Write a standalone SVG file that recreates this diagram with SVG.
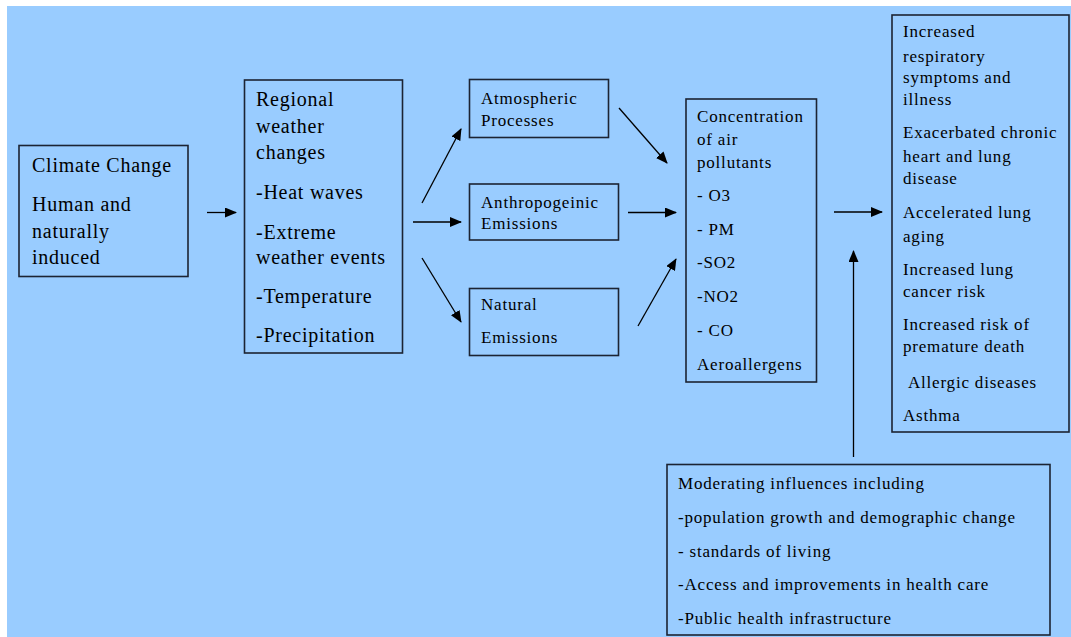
<svg xmlns="http://www.w3.org/2000/svg" width="1071" height="637" viewBox="0 0 1071 637">
<defs>
<style>
.box{fill:none;stroke:#1c2433;stroke-width:1.6}
.t{font-family:"Liberation Serif","Times New Roman",serif;fill:#000}
.l{font-size:20px;letter-spacing:0.75px}
.s{font-size:17px;letter-spacing:0.8px}
.c{stroke:#000;stroke-width:1.3;fill:none}
</style>
<marker id="ah" viewBox="0 0 12 10" refX="11" refY="5" markerWidth="12" markerHeight="10" markerUnits="userSpaceOnUse" orient="auto">
<path d="M0,0 L12,5 L0,10 Z" fill="#000"/>
</marker>
</defs>
<rect x="0" y="0" width="1071" height="637" fill="#ffffff"/>
<rect x="7" y="6" width="1064" height="631" fill="#99ccff"/>

<g id="climate">
<rect class="box" x="19" y="145.5" width="169" height="131"/>
<text class="t l" x="32" y="172">Climate Change</text>
<text class="t l" x="32" y="211">Human and</text>
<text class="t l" x="32" y="238">naturally</text>
<text class="t l" x="32" y="264">induced</text>
</g>

<g id="regional">
<rect class="box" x="244.5" y="80" width="158" height="273"/>
<text class="t l" x="256" y="106">Regional</text>
<text class="t l" x="256" y="133">weather</text>
<text class="t l" x="256" y="159">changes</text>
<text class="t l" x="256" y="199">-Heat waves</text>
<text class="t l" x="256" y="239">-Extreme</text>
<text class="t l" x="256" y="264">weather events</text>
<text class="t l" x="256" y="303">-Temperature</text>
<text class="t l" x="256" y="342">-Precipitation</text>
</g>

<g id="atmospheric">
<rect class="box" x="469.5" y="79.5" width="139" height="58"/>
<text class="t s" x="481" y="104">Atmospheric</text>
<text class="t s" x="481" y="126">Processes</text>
</g>

<g id="anthropogenic">
<rect class="box" x="469.5" y="184" width="149" height="56"/>
<text class="t s" x="481" y="208">Anthropogeinic</text>
<text class="t s" x="481" y="229">Emissions</text>
</g>

<g id="natural">
<rect class="box" x="469.5" y="288.5" width="149" height="67"/>
<text class="t s" x="481" y="310">Natural</text>
<text class="t s" x="481" y="343">Emissions</text>
</g>

<g id="concentration">
<rect class="box" x="686" y="99" width="130.5" height="283"/>
<text class="t s" x="697" y="122">Concentration</text>
<text class="t s" x="697" y="145">of air</text>
<text class="t s" x="697" y="168">pollutants</text>
<text class="t s" x="697" y="201">- O3</text>
<text class="t s" x="697" y="235">- PM</text>
<text class="t s" x="697" y="268">-SO2</text>
<text class="t s" x="697" y="302">-NO2</text>
<text class="t s" x="697" y="336">- CO</text>
<text class="t s" x="697" y="370">Aeroallergens</text>
</g>

<g id="health">
<rect class="box" x="892" y="15" width="177" height="417"/>
<text class="t s" x="903" y="37">Increased</text>
<text class="t s" x="903" y="62">respiratory</text>
<text class="t s" x="903" y="83">symptoms and</text>
<text class="t s" x="903" y="105">illness</text>
<text class="t s" x="903" y="138">Exacerbated chronic</text>
<text class="t s" x="903" y="162">heart and lung</text>
<text class="t s" x="903" y="184">disease</text>
<text class="t s" x="903" y="218">Accelerated lung</text>
<text class="t s" x="903" y="242">aging</text>
<text class="t s" x="903" y="275">Increased lung</text>
<text class="t s" x="903" y="297">cancer risk</text>
<text class="t s" x="903" y="330">Increased risk of</text>
<text class="t s" x="903" y="352">premature death</text>
<text class="t s" x="908" y="388">Allergic diseases</text>
<text class="t s" x="903" y="421">Asthma</text>
</g>

<g id="moderating">
<rect class="box" x="667" y="464.5" width="383" height="170.5"/>
<text class="t s" x="678" y="489">Moderating influences including</text>
<text class="t s" x="678" y="523">-population growth and demographic change</text>
<text class="t s" x="678" y="557">- standards of living</text>
<text class="t s" x="678" y="590">-Access and improvements in health care</text>
<text class="t s" x="678" y="624">-Public health infrastructure</text>
</g>

<g id="connectors">
<line class="c" x1="207" y1="212.5" x2="236" y2="212.5" marker-end="url(#ah)"/>
<line class="c" x1="422" y1="203" x2="461" y2="129" marker-end="url(#ah)"/>
<line class="c" x1="413" y1="222" x2="461" y2="222" marker-end="url(#ah)"/>
<line class="c" x1="422" y1="258" x2="461" y2="322" marker-end="url(#ah)"/>
<line class="c" x1="619" y1="108" x2="667" y2="163" marker-end="url(#ah)"/>
<line class="c" x1="628" y1="212.5" x2="676" y2="212.5" marker-end="url(#ah)"/>
<line class="c" x1="638" y1="326" x2="676" y2="259" marker-end="url(#ah)"/>
<line class="c" x1="834" y1="212" x2="882" y2="212" marker-end="url(#ah)"/>
<line class="c" x1="853.5" y1="457" x2="853.5" y2="251" marker-end="url(#ah)"/>
</g>
</svg>
